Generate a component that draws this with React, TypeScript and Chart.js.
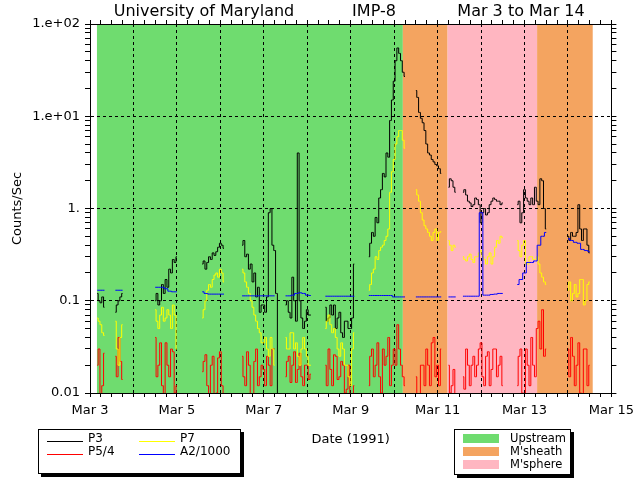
import { useEffect, useRef } from "react";
import { Chart, registerables } from "chart.js";

Chart.register(...registerables);

const _ = null;

// x in days since Mar 3 00:00
const FIRST_DAY = 3;
const X_DAYS = 12;
const HOURLY = 1 / 24; // P3, P5/4, P7 sampled hourly
const TWO_HOURLY = 1 / 12; // A2/1000 sampled every 2 hours

// P3 (black), hourly, one row per day
const P3 = [
  _, _, _, _, 0.12, 0.1, 0.095, 0.11, 0.085, _, _, _, _, _, 0.075, 0.09, 0.1, 0.11, 0.12, _, _, _, _, _,
  _, _, _, _, _, _, _, _, _, _, _, _, 0.1, 0.12, 0.09, 0.1, 0.15, 0.12, 0.17, 0.14, 0.22, 0.2, 0.28, 0.26,
  0.3, _, _, _, _, _, _, _, _, _, _, _, _, _, 0.25, 0.27, 0.22, 0.26, 0.3, 0.28, 0.33, 0.31, 0.34, 0.38,
  0.42, 0.4, 0.37, _, _, _, _, _, _, _, _, _, 0.4, 0.45, 0.3, 0.32, 0.22, 0.25, 0.16, 0.2, 0.11, 0.14, 0.075, 0.09,
  0.09, 0.075, 0.11, 0.9, 1.0, 0.4, 0.35, 0.12, 0.005, _, _, _, 0.09, 0.1, 0.075, 0.065, 0.18, 0.1, 0.06, 4.0, 0.1, 0.065, 0.05, 0.06,
  0.08, 0.07, 0.07, _, _, _, _, _, _, _, 0.085, 0.06, 0.065, 0.09, 0.07, 0.09, 0.05, 0.065, 0.075, 0.045, 0.04, 0.06, 0.06, 0.05,
  0.05, 0.065, 0.25, _, _, _, _, _, _, _, 0.3, 0.42, 0.55, 0.5, 0.8, 0.7, 1.3, 1.6, 2.4, 2.2, 4.0, 3.6, 9, 15,
  24, 40, 55, 48, 40, 30, 27, _, _, _, _, _, 19, 16, 11, 9.5, 8.5, 7, 5, 4, 3.8, 3.4, 3.2, 3.0,
  2.9, 2.7, 2.4, _, _, _, 1.7, 2.1, 2.0, 1.7, 1.5, _, _, _, 1.5, 1.6, 1.4, 1.2, 1.15, 1.05, 1.1, 1.3, 1.25, 1.1,
  0.7, 0.9, 1.0, 0.85, 0.9, 1.1, 1.2, 1.3, 1.25, 1.2, 1.2, 1.1, 1.15, _, _, _, _, _, _, _, 1.1, 1.2, 0.7, 0.9,
  1.6, 1.3, 1.2, 1.1, 1.3, 1.1, 1.7, 1.2, 1.1, 2.1, 2.0, 1.0, 0.6, _, _, _, _, _, _, _, _, _, _, _,
  0.5, 0.45, 0.55, 0.5, 0.5, 0.55, 1.1, 0.6, 0.45, 0.6, 0.6, 0.4, 0.33,
];

// P5/4 (red), hourly
const P5_4 = [
  _, _, _, _, 0.02, 0.03, 0.007, 0.012, 0.027, _, _, _, _, _, 0.025, 0.015, 0.04, 0.022, 0.014, _, _, _, _, _,
  _, _, _, _, _, _, _, _, _, _, _, _, 0.04, 0.015, 0.02, 0.035, 0.012, 0.008, 0.035, 0.02, 0.015, 0.03, 0.028, 0.01,
  0.012, _, _, _, _, _, _, _, _, _, _, _, _, _, 0.017, 0.022, 0.026, 0.012, 0.009, 0.02, 0.025, 0.008, 0.01, 0.024,
  0.028, 0.012, 0.009, _, _, _, _, _, _, _, _, _, 0.025, 0.015, 0.012, 0.028, 0.02, 0.009, 0.009, 0.022, 0.03, 0.012, 0.015, 0.02,
  0.018, 0.012, 0.025, 0.02, 0.012, 0.03, 0.03, _, _, _, _, _, 0.015, 0.022, 0.025, 0.013, 0.02, 0.028, 0.013, 0.018, 0.027, 0.015, 0.012, 0.02,
  0.02, 0.014, 0.016, _, _, _, _, _, _, _, 0.02, 0.012, 0.03, 0.018, 0.012, 0.026, 0.025, 0.014, 0.015, 0.022, 0.02, 0.01, 0.011, 0.02,
  0.008, 0.007, 0.012, _, _, _, _, _, _, _, 0.012, 0.025, 0.03, 0.015, 0.02, 0.035, 0.015, 0.01, 0.03, 0.02, 0.025, 0.04, 0.012, 0.02,
  0.03, 0.02, 0.055, 0.03, 0.02, 0.015, 0.012, _, _, _, _, _, 0.015, 0.008, 0.008, 0.02, 0.02, 0.012, 0.03, 0.02, 0.012, 0.035, 0.04, 0.015,
  0.02, 0.012, 0.03, _, _, _, 0.02, 0.01, 0.012, 0.018, 0.008, _, _, _, 0.015, 0.011, 0.03, 0.02, 0.012, 0.02, 0.025, 0.015, 0.02, 0.03,
  0.035, 0.015, 0.012, 0.025, 0.028, 0.012, 0.018, 0.03, 0.03, 0.015, 0.02, 0.025, 0.012, _, _, _, _, _, _, _, 0.012, 0.025, 0.03, 0.01,
  0.009, 0.03, 0.02, 0.012, 0.04, 0.02, 0.015, 0.05, 0.06, 0.03, 0.08, 0.025, 0.03, _, _, _, _, _, _, _, _, _, _, _,
  0.03, 0.015, 0.04, 0.025, 0.012, 0.02, 0.035, 0.01, 0.008, 0.03, 0.03, 0.012, 0.02,
];

// P7 (yellow), hourly
const P7 = [
  _, _, _, _, 0.065, 0.06, 0.055, 0.045, 0.042, _, _, _, _, _, 0.06, 0.03, 0.02, 0.04, 0.055, _, _, _, _, _,
  _, _, _, _, _, _, _, _, _, _, _, _, 0.08, 0.06, 0.05, 0.07, 0.085, 0.06, 0.065, 0.08, 0.07, 0.05, 0.09, 0.07,
  0.03, _, _, _, _, _, _, _, _, _, _, _, _, _, 0.065, 0.08, 0.1, 0.13, 0.15, 0.14, 0.17, 0.19, 0.2, 0.18,
  0.22, 0.2, 0.16, _, _, _, _, _, _, _, _, _, 0.22, 0.2, 0.16, 0.14, 0.12, 0.1, 0.085, 0.07, 0.06, 0.05, 0.045, 0.035,
  0.035, 0.04, 0.03, 0.025, 0.04, 0.03, 0.02, _, _, _, _, _, 0.04, 0.03, 0.03, 0.045, 0.045, 0.03, 0.035, 0.025, 0.02, 0.03, 0.04, 0.03,
  0.025, 0.02, 0.02, _, _, _, _, _, _, _, 0.05, 0.06, 0.07, 0.055, 0.045, 0.05, 0.04, 0.03, 0.025, 0.035, 0.03, 0.02, 0.02, 0.015,
  0.012, 0.03, 0.045, _, _, _, _, _, _, _, 0.13, 0.15, 0.2, 0.22, 0.3, 0.28, 0.35, 0.38, 0.4, 0.45, 0.5, 0.6, 1.5, 2.5,
  3.4, 5, 6, 7, 7, 5.5, 4.5, _, _, _, _, _, 1.6, 1.4, 1.2, 0.9, 0.75, 0.65, 0.6, 0.55, 0.5, 0.45, 0.55, 0.6,
  0.45, 0.55, 0.56, _, _, _, 0.45, 0.4, 0.35, 0.4, 0.38, _, _, _, 0.3, 0.28, 0.27, 0.3, 0.32, 0.28, 0.26, 0.3, 0.3, 0.33,
  0.35, 0.3, 0.28, 0.25, 0.3, 0.33, 0.25, 0.3, 0.38, 0.45, 0.42, 0.5, 0.48, _, _, _, _, _, _, _, 0.45, 0.35, 0.3, 0.4,
  0.45, 0.25, 0.25, 0.3, 0.3, 0.28, 0.28, 0.3, 0.25, 0.2, 0.18, 0.16, 0.15, _, _, _, _, _, _, _, _, _, _, _,
  0.13, 0.16, 0.1, 0.12, 0.15, 0.11, 0.12, 0.17, 0.17, 0.09, 0.1, 0.15, 0.16,
];

// A2/1000 (blue), every 2 hours
const A2_1000 = [
  _, _, 0.13, 0.13, 0.13, _, _, 0.13, 0.13, 0.13, _, _,
  _, _, _, _, _, _, 0.14, 0.14, 0.14, 0.135, 0.127, 0.125,
  0.125, _, _, _, _, _, _, 0.125, 0.12, 0.118, 0.118, 0.118,
  0.118, 0.118, _, _, _, _, 0.113, 0.113, 0.113, 0.113, 0.113, 0.113,
  0.113, 0.113, 0.113, 0.113, _, _, 0.113, 0.113, 0.115, 0.12, 0.122, 0.12,
  0.115, 0.114, _, _, _, 0.112, 0.112, 0.112, 0.112, 0.112, 0.112, 0.112,
  0.112, 0.112, _, _, _, 0.114, 0.114, 0.114, 0.114, 0.114, 0.114, 0.114,
  0.11, 0.11, 0.11, 0.11, _, _, 0.11, 0.11, 0.11, 0.11, 0.11, 0.11,
  0.11, 0.11, _, 0.11, 0.11, 0.11, _, 0.112, 0.112, 0.112, 0.112, 0.112,
  0.9, 0.115, 0.115, 0.117, 0.118, 0.12, 0.12, _, _, _, 0.15, 0.17,
  0.2, 0.26, 0.26, 0.27, 0.4, 0.5, 0.55, _, _, _, _, _,
  0.47, 0.45, 0.43, 0.42, 0.36, 0.35, 0.34,
];

const SERIES_NAMES = ["P3", "P5/4", "P7", "A2/1000"];
const SERIES_COLORS = ["#000000", "#ff0000", "#ffff00", "#0000ff"];

// Regions (days since Mar 3)
const REGION_NAMES = ["Upstream", "M'sheath", "M'sphere"];
const REGION_COLORS = ["#6fdc6f", "#f4a460", "#ffb6c1"];
const BAND_START = [0.16, 7.2, 8.23, 10.29];
const BAND_END = [7.2, 8.23, 10.29, 11.57];
const BAND_REGION = [0, 1, 2, 1];

const Y_MAJOR = [0.01, 0.1, 1, 10, 100];
const Y_LABELS = ["0.01", "0.1", "1.", "1.e+01", "1.e+02"];

const TITLE_PARTS = ["University of Maryland", "IMP-8", "Mar 3 to Mar 14"];
const X_TITLE = "Date (1991)";
const Y_TITLE = "Counts/Sec";

// ---- layout / style (not data) ----
const FONT = "DejaVu Sans";
const TITLE_CX = [204, 374, 521];
const TITLE_Y = 12;
const LEG1 = { x: 38, y: 429, w: 203, h: 45 };
const LEG1_COLS = [47, 139];
const LEG1_ROWS = [441, 454];
const LEG2 = { x: 454, y: 429, w: 117, h: 46 };
const LEG2_ROWS = [434, 447, 460];

const xTickValues = Array.from({ length: X_DAYS * 4 + 1 }, (__, k) => k / 4);
const yTickValues: number[] = [];
for (let e = -2; e <= 1; e++) {
  for (let m = 1; m <= 9; m++) yTickValues.push(Number((m * Math.pow(10, e)).toPrecision(2)));
}
yTickValues.push(100);

const majorIndex = (v: number) => Y_MAJOR.findIndex((m) => Math.abs(v / m - 1) < 1e-9);
const isInt = (v: number) => Math.abs(v - Math.round(v)) < 1e-9;

function toPoints(arr: (number | null)[], step: number) {
  return arr.map((v, i) => ({ x: i * step, y: v }));
}

const decorPlugin = {
  id: "decor",
  beforeDraw(chart: any) {
    const { ctx, chartArea, scales } = chart;
    ctx.save();
    ctx.fillStyle = "#ffffff";
    ctx.fillRect(0, 0, chart.width, chart.height);
    for (let k = 0; k < BAND_START.length; k++) {
      const x1 = scales.x.getPixelForValue(BAND_START[k]);
      const x2 = scales.x.getPixelForValue(BAND_END[k]);
      ctx.fillStyle = REGION_COLORS[BAND_REGION[k]];
      ctx.fillRect(x1, chartArea.top, x2 - x1, chartArea.bottom - chartArea.top);
    }
    ctx.restore();
  },
  afterDraw(chart: any) {
    const { ctx } = chart;
    ctx.save();
    ctx.fillStyle = "#000";
    ctx.textBaseline = "middle";
    ctx.textAlign = "center";
    ctx.font = `16px "${FONT}"`;
    TITLE_PARTS.forEach((t, k) => ctx.fillText(t, TITLE_CX[k], TITLE_Y));

    const box = (b: { x: number; y: number; w: number; h: number }) => {
      ctx.fillStyle = "#000";
      ctx.fillRect(b.x + 3, b.y + 3, b.w, b.h);
      ctx.fillStyle = "#fff";
      ctx.fillRect(b.x, b.y, b.w, b.h);
      ctx.strokeStyle = "#000";
      ctx.lineWidth = 1;
      ctx.strokeRect(b.x + 0.5, b.y + 0.5, b.w - 1, b.h - 1);
    };

    ctx.textAlign = "left";
    ctx.font = `12px "${FONT}"`;
    box(LEG1);
    SERIES_NAMES.forEach((name, k) => {
      const cx = LEG1_COLS[Math.floor(k / 2)];
      const ry = LEG1_ROWS[k % 2];
      ctx.strokeStyle = SERIES_COLORS[k];
      ctx.lineWidth = 1;
      ctx.beginPath();
      ctx.moveTo(cx, ry + 0.5);
      ctx.lineTo(cx + 36, ry + 0.5);
      ctx.stroke();
      ctx.fillStyle = "#000";
      ctx.fillText(name, cx + 41, ry - 2);
    });

    ctx.font = `11.5px "${FONT}"`;
    box(LEG2);
    REGION_NAMES.forEach((name, k) => {
      ctx.fillStyle = REGION_COLORS[k];
      ctx.fillRect(LEG2.x + 9, LEG2_ROWS[k], 36, 9);
      ctx.fillStyle = "#000";
      ctx.fillText(name, LEG2.x + 56, LEG2_ROWS[k] + 5);
    });
    ctx.restore();
  },
};

export default function App() {
  const ref = useRef<HTMLCanvasElement>(null);

  useEffect(() => {
    document.body.style.margin = "0";
    Chart.defaults.font.family = FONT;
    const tickFont = { family: FONT, size: 13 };
    const common = {
      borderWidth: 1,
      pointRadius: 0,
      stepped: "middle" as const,
      spanGaps: false,
      fill: false,
      tension: 0,
    };
    const datasets = [
      { label: SERIES_NAMES[3], data: toPoints(A2_1000, TWO_HOURLY), borderColor: SERIES_COLORS[3], ...common },
      { label: SERIES_NAMES[2], data: toPoints(P7, HOURLY), borderColor: SERIES_COLORS[2], ...common },
      { label: SERIES_NAMES[1], data: toPoints(P5_4, HOURLY), borderColor: SERIES_COLORS[1], ...common },
      { label: SERIES_NAMES[0], data: toPoints(P3, HOURLY), borderColor: SERIES_COLORS[0], ...common },
    ];

    const chart = new Chart(ref.current as HTMLCanvasElement, {
      type: "line",
      data: { datasets } as any,
      plugins: [decorPlugin],
      options: {
        responsive: false,
        devicePixelRatio: 1,
        animation: false,
        events: [],
        layout: { padding: { top: 24, left: 0, right: 0, bottom: 0 } },
        plugins: { legend: { display: false }, tooltip: { enabled: false }, title: { display: false } },
        scales: {
          x: {
            type: "linear",
            position: "bottom",
            min: 0,
            max: X_DAYS,
            afterBuildTicks: (s: any) => {
              s.ticks = xTickValues.map((v) => ({ value: v }));
            },
            afterFit: (s: any) => {
              s.height = 87;
            },
            ticks: {
              autoSkip: false,
              maxRotation: 0,
              minRotation: 0,
              padding: 6,
              color: "#000",
              font: tickFont,
              callback: (v: any) => {
                const n = Number(v);
                return isInt(n) && Math.round(n) % 2 === 0 ? `Mar ${FIRST_DAY + Math.round(n)}` : "";
              },
            },
            grid: {
              color: (c: any) => {
                const v = c.tick ? c.tick.value : -1;
                return isInt(v) && v > 0 && v < X_DAYS ? "#000" : "rgba(0,0,0,0)";
              },
              tickColor: "#000",
              tickLength: 4,
              lineWidth: 1,
            },
            border: { display: true, color: "#000", width: 1, dash: [3, 3] },
            title: { display: true, text: X_TITLE, color: "#000", font: tickFont, padding: { top: 0, bottom: 33 } },
          },
          x2: {
            type: "linear",
            position: "top",
            min: 0,
            max: X_DAYS,
            display: true,
            afterBuildTicks: (s: any) => {
              s.ticks = xTickValues.map((v) => ({ value: v }));
            },
            afterFit: (s: any) => {
              s.height = 0;
            },
            ticks: { display: false },
            grid: { drawOnChartArea: false, tickColor: "#000", tickLength: 4, lineWidth: 1 },
            border: { display: true, color: "#000", width: 1 },
          },
          y: {
            type: "logarithmic",
            position: "left",
            min: 0.01,
            max: 100,
            afterBuildTicks: (s: any) => {
              s.ticks = yTickValues.map((v) => ({ value: v, major: majorIndex(v) >= 0 }));
            },
            afterFit: (s: any) => {
              s.width = 90;
            },
            ticks: {
              autoSkip: false,
              padding: 5,
              color: "#000",
              font: tickFont,
              callback: (v: any) => {
                const k = majorIndex(Number(v));
                return k >= 0 ? Y_LABELS[k] : "";
              },
            },
            grid: {
              color: (c: any) => {
                const v = c.tick ? c.tick.value : 0;
                const k = majorIndex(v);
                return k > 0 && k < Y_MAJOR.length - 1 ? "#000" : "rgba(0,0,0,0)";
              },
              tickColor: "#000",
              tickLength: 5,
              lineWidth: 1,
            },
            border: { display: true, color: "#000", width: 1, dash: [3, 3] },
            title: { display: true, text: Y_TITLE, color: "#000", font: tickFont, padding: { top: 10, bottom: 0 } },
          },
          y2: {
            type: "logarithmic",
            position: "right",
            min: 0.01,
            max: 100,
            display: true,
            afterBuildTicks: (s: any) => {
              s.ticks = yTickValues.map((v) => ({ value: v, major: majorIndex(v) >= 0 }));
            },
            afterFit: (s: any) => {
              s.width = 25;
            },
            ticks: { display: false },
            grid: { drawOnChartArea: false, tickColor: "#000", tickLength: 5, lineWidth: 1 },
            border: { display: true, color: "#000", width: 1 },
          },
        },
      } as any,
    });
    return () => chart.destroy();
  }, []);

  return (
    <div style={{ width: 640, height: 480 }}>
      <canvas ref={ref} width={640} height={480} style={{ display: "block" }} />
    </div>
  );
}
